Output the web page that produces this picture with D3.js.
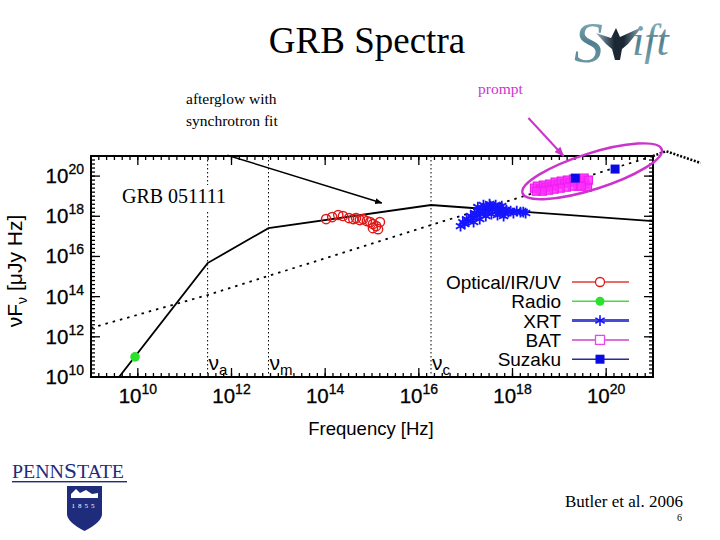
<!DOCTYPE html>
<html><head><meta charset="utf-8">
<script src="https://cdn.jsdelivr.net/npm/d3@7"></script>
<style>body{margin:0;background:#fff}svg{display:block}</style>
</head><body>
<svg id="c" width="720" height="540"></svg>
<script>
// ---------- DATA (log10 values) ----------
const xMajorExp = [10, 12, 14, 16, 18, 20];
const yMajorExp = [10, 12, 14, 16, 18, 20];

// Optical/IR/UV (log10 Hz, log10 uJy Hz)
const optLogNu = [14.02,14.15,14.28,14.38,14.51,14.60,14.66,14.74,14.81,14.89,14.96,15.02,15.09,15.17,15.13,15.02];
const optLogF  = [17.86,17.96,18.06,18.01,17.91,17.86,17.91,17.81,17.86,17.76,17.71,17.61,17.51,17.71,17.36,17.41];

// Radio
const radioLogNu = [9.94];
const radioLogF  = [11.0];

// XRT
const xrtLogNu = [16.89,16.94,16.98,17.02,17.06,17.11,17.15,17.19,17.23,17.28,17.32,17.36,17.40,17.45,17.49,17.53,17.57,17.62,17.66,17.70,17.74,17.79,17.83,17.87,17.91,17.96,18.02,18.09,18.17,18.23,18.28,17.26,17.38,17.51,17.64,17.77,17.43,17.55,17.68,17.81,17.17,17.30];
const xrtLogF  = [17.51,17.71,17.61,17.86,17.76,18.01,17.91,18.16,18.06,18.26,18.11,18.36,18.21,18.46,18.31,18.51,18.36,18.46,18.26,18.41,18.21,18.36,18.16,18.31,18.21,18.26,18.16,18.26,18.21,18.21,18.16,18.46,18.56,18.61,18.56,18.51,18.01,18.11,18.06,18.01,17.71,17.86];

// BAT
const batLogNu = [18.47,18.53,18.60,18.66,18.72,18.79,18.85,18.91,18.98,19.04,19.11,19.17,19.23,19.30,19.36,19.43,19.49,19.55,19.60,19.53,19.40,19.28,19.15,19.02,18.89,18.77,18.64,18.51,19.62,19.47];
const batLogF  = [19.40,19.50,19.35,19.55,19.45,19.60,19.50,19.70,19.60,19.75,19.65,19.80,19.70,19.85,19.75,19.80,19.70,19.60,19.45,19.90,19.50,19.50,19.45,19.40,19.35,19.30,19.25,19.25,19.80,19.50];

// Suzaku
const suzLogNu = [19.34, 20.19];
const suzLogF  = [19.90, 20.35];
const suzLogFLow = [19.84, 20.20];

// Synchrotron afterglow model (broken power law break points)
const modelLogNu = [9.0, 11.49, 12.79, 16.26, 21.0];
const modelLogF  = [8.2, 15.67, 17.41, 18.56, 17.76];

// Prompt (Band) model, dotted
const promptLogNu = [9.0, 11.49, 16.26, 21.0];
const promptLogF  = [12.44, 14.08, 17.56, 21.0];
const promptOutLogNu = [21.0, 21.28, 22.02];
const promptOutLogF  = [21.0, 21.24, 20.65];

// Break frequencies
const breakLogNu = [11.49, 12.79, 16.26];
const breakSubs  = ["a", "m", "c"];

// Legend
const legendLabels = ["Optical/IR/UV", "Radio", "XRT", "BAT", "Suzaku"];
const legendLineColors = ["#e23a3a", "#44dd44", "#4a4ad2", "#d873d8", "#2a2a9a"];
const legendLineWidths = [1.5, 1.5, 3, 2, 1.5];

// ---------- LAYOUT ----------
const svg = d3.select('#c');
const L = 91, R = 653, T = 156, B = 377;
const P = v => Math.pow(10, v);
const x = d3.scaleLog().domain([1e9, 1e21]).range([L, R]);
const y = d3.scaleLog().domain([1e10, 1e21]).range([B, T]);
const SANS = "'Liberation Sans', Arial, Helvetica, sans-serif";
const SERIF = "'Liberation Serif', 'Times New Roman', serif";

svg.append('rect').attr('width', 720).attr('height', 540).attr('fill', '#fff');
const defs = svg.append('defs');
defs.append('clipPath').attr('id', 'clip').append('rect')
  .attr('x', L).attr('y', T).attr('width', R - L).attr('height', B - T);
const mk = (id, col) => defs.append('marker').attr('id', id).attr('viewBox', '0 0 10 10')
  .attr('refX', 9).attr('refY', 5).attr('markerWidth', 5).attr('markerHeight', 5)
  .attr('orient', 'auto').append('path').attr('d', 'M0,1 L10,5 L0,9 Z').attr('fill', col);
mk('arrK', '#000'); mk('arrM', '#cc33cc');

// ---------- Title, texts ----------
svg.append('text').attr('x', 367).attr('y', 53).attr('text-anchor', 'middle')
  .attr('font-family', SERIF).attr('font-size', 37).text('GRB Spectra');
svg.append('text').attr('x', 186).attr('y', 104).attr('font-family', SERIF).attr('font-size', 15.5).text('afterglow with');
svg.append('text').attr('x', 186).attr('y', 126).attr('font-family', SERIF).attr('font-size', 15.5).text('synchrotron fit');
svg.append('text').attr('x', 478).attr('y', 94).attr('font-family', SERIF).attr('font-size', 15.5)
  .attr('fill', '#cc33cc').text('prompt');

// ---------- Axes ticks ----------
const ax = svg.append('g').attr('stroke', '#000').attr('stroke-width', 1.3);
const xMinor = d3.range(9, 21.0001, 1 / 6).map(P);
const yMinor = d3.range(10, 21.0001, 0.2).map(P);
xMinor.forEach(v => {
  const xx = x(v);
  ax.append('line').attr('x1', xx).attr('x2', xx).attr('y1', B).attr('y2', B - 4);
  ax.append('line').attr('x1', xx).attr('x2', xx).attr('y1', T).attr('y2', T + 4);
});
xMajorExp.forEach(e => {
  const xx = x(P(e));
  ax.append('line').attr('x1', xx).attr('x2', xx).attr('y1', B).attr('y2', B - 9);
  ax.append('line').attr('x1', xx).attr('x2', xx).attr('y1', T).attr('y2', T + 9);
});
yMinor.forEach(v => {
  const yy = y(v);
  ax.append('line').attr('x1', L).attr('x2', L + 4).attr('y1', yy).attr('y2', yy);
  ax.append('line').attr('x1', R).attr('x2', R - 4).attr('y1', yy).attr('y2', yy);
});
yMajorExp.forEach(e => {
  const yy = y(P(e));
  ax.append('line').attr('x1', L).attr('x2', L + 9).attr('y1', yy).attr('y2', yy);
  ax.append('line').attr('x1', R).attr('x2', R - 9).attr('y1', yy).attr('y2', yy);
});

// tick labels
xMajorExp.forEach(e => {
  const t = svg.append('text').attr('x', x(P(e))).attr('y', 403).attr('text-anchor', 'middle')
    .attr('font-family', SANS).attr('font-size', 20.5).attr('stroke', '#000').attr('stroke-width', 0.3);
  t.append('tspan').text('10');
  t.append('tspan').attr('dy', -9).attr('font-size', 14).text(String(e));
});
yMajorExp.forEach(e => {
  const t = svg.append('text').attr('x', 84).attr('y', y(P(e)) + 7).attr('text-anchor', 'end')
    .attr('font-family', SANS).attr('font-size', 20.5).attr('stroke', '#000').attr('stroke-width', 0.3);
  t.append('tspan').text('10');
  t.append('tspan').attr('dy', -9).attr('font-size', 14).text(String(e));
});

// axis titles
svg.append('text').attr('x', 371).attr('y', 435).attr('text-anchor', 'middle')
  .attr('font-family', SANS).attr('font-size', 18.5).text('Frequency [Hz]');
const yt = svg.append('text').attr('transform', 'translate(22,271) rotate(-90)').attr('text-anchor', 'middle')
  .attr('font-family', SANS).attr('font-size', 21);
yt.append('tspan').text('νF');
yt.append('tspan').attr('font-size', 14).attr('dy', 5).text('ν');
yt.append('tspan').attr('dy', -5).text(' [μJy Hz]');

// ---------- plot content ----------
const plot = svg.append('g').attr('clip-path', 'url(#clip)');

// break frequency dotted verticals
breakLogNu.forEach(b => {
  plot.append('line').attr('x1', x(P(b))).attr('x2', x(P(b))).attr('y1', T).attr('y2', B)
    .attr('stroke', '#000').attr('stroke-width', 1).attr('stroke-dasharray', '1.5,2.5');
});
breakLogNu.forEach((b, i) => {
  const t = svg.append('text').attr('x', x(P(b)) + 1).attr('y', 370)
    .attr('font-family', SANS).attr('font-size', 21);
  t.append('tspan').text('ν');
  t.append('tspan').attr('dy', 5).attr('font-size', 15).text(breakSubs[i]);
});

const line = d3.line().x(d => x(P(d[0]))).y(d => y(P(d[1])));
plot.append('path').attr('d', line(modelLogNu.map((v, i) => [v, modelLogF[i]])))
  .attr('fill', 'none').attr('stroke', '#000').attr('stroke-width', 1.8);
plot.append('path').attr('d', line(promptLogNu.map((v, i) => [v, promptLogF[i]])))
  .attr('fill', 'none').attr('stroke', '#000').attr('stroke-width', 1.8).attr('stroke-dasharray', '2.5,5');
svg.append('path').attr('d', line(promptOutLogNu.map((v, i) => [v, promptOutLogF[i]])))
  .attr('fill', 'none').attr('stroke', '#000').attr('stroke-width', 2.5).attr('stroke-dasharray', '2,1.6');

// optical
plot.selectAll('.opt').data(optLogNu.map((v, i) => [v, optLogF[i]])).enter().append('circle')
  .attr('cx', d => x(P(d[0]))).attr('cy', d => y(P(d[1]))).attr('r', 4.6)
  .attr('fill', 'none').attr('stroke', '#e01818').attr('stroke-width', 1.4);
// radio
plot.selectAll('.rad').data(radioLogNu.map((v, i) => [v, radioLogF[i]])).enter().append('circle')
  .attr('cx', d => x(P(d[0]))).attr('cy', d => y(P(d[1]))).attr('r', 4.8).attr('fill', '#2ee02e');
// XRT
const ast = d3.symbol().type(d3.symbolAsterisk).size(80);
plot.selectAll('.xrt').data(xrtLogNu.map((v, i) => [v, xrtLogF[i]])).enter().append('path')
  .attr('d', ast).attr('transform', d => `translate(${x(P(d[0]))},${y(P(d[1]))})`)
  .attr('fill', 'none').attr('stroke', '#1515ff').attr('stroke-width', 1.8);
// BAT
plot.selectAll('.bat').data(batLogNu.map((v, i) => [v, batLogF[i]])).enter().append('rect')
  .attr('x', d => x(P(d[0])) - 4).attr('y', d => y(P(d[1])) - 4).attr('width', 8).attr('height', 8)
  .attr('fill', '#ff30ff').attr('fill-opacity', 0.8).attr('stroke', '#f020f0').attr('stroke-width', 1.3);
// Suzaku
suzLogNu.forEach((v, i) => {
  plot.append('line').attr('x1', x(P(v))).attr('x2', x(P(v))).attr('y1', y(P(suzLogF[i])))
    .attr('y2', y(P(suzLogFLow[i]))).attr('stroke', '#0000dd').attr('stroke-width', 1.5);
});
plot.selectAll('.suz').data(suzLogNu.map((v, i) => [v, suzLogF[i]])).enter().append('rect')
  .attr('x', d => x(P(d[0])) - 4.5).attr('y', d => y(P(d[1])) - 4.5).attr('width', 9).attr('height', 9)
  .attr('fill', '#0a0ae6');

// legend
legendLabels.forEach((lab, i) => {
  const cy = 282 + i * 19.3;
  svg.append('text').attr('x', 561).attr('y', cy + 7).attr('text-anchor', 'end')
    .attr('font-family', SANS).attr('font-size', 19).text(lab);
  svg.append('line').attr('x1', 572).attr('x2', 629).attr('y1', cy).attr('y2', cy)
    .attr('stroke', legendLineColors[i]).attr('stroke-width', legendLineWidths[i]);
  const mx = 600;
  if (i === 0) svg.append('circle').attr('cx', mx).attr('cy', cy).attr('r', 4.5).attr('fill', '#fff').attr('stroke', '#e01818').attr('stroke-width', 1.3);
  if (i === 1) svg.append('circle').attr('cx', mx).attr('cy', cy).attr('r', 4.5).attr('fill', '#2ee02e');
  if (i === 2) svg.append('path').attr('d', ast).attr('transform', `translate(${mx},${cy})`).attr('fill', 'none').attr('stroke', '#1515ff').attr('stroke-width', 1.6);
  if (i === 3) svg.append('rect').attr('x', mx - 4.5).attr('y', cy - 4.5).attr('width', 9).attr('height', 9).attr('fill', '#fff').attr('stroke', '#ee44ee').attr('stroke-width', 1.3);
  if (i === 4) svg.append('rect').attr('x', mx - 4.5).attr('y', cy - 4.5).attr('width', 9).attr('height', 9).attr('fill', '#0a0ae6');
});

// frame
svg.append('rect').attr('x', L).attr('y', T).attr('width', R - L).attr('height', B - T)
  .attr('fill', 'none').attr('stroke', '#000').attr('stroke-width', 2);

// GRB label with white box
svg.append('rect').attr('x', 119).attr('y', 185).attr('width', 112).attr('height', 25).attr('fill', '#fff');
svg.append('text').attr('x', 122).attr('y', 203).attr('font-family', SERIF).attr('font-size', 20).text('GRB 051111');

// annotations (in data coordinates)
svg.append('line').attr('x1', x(P(11.91))).attr('y1', y(P(21.04))).attr('x2', x(P(15.21))).attr('y2', y(P(18.66)))
  .attr('stroke', '#000').attr('stroke-width', 1.5).attr('marker-end', 'url(#arrK)');
svg.append('line').attr('x1', x(P(18.34))).attr('y1', y(P(22.89))).attr('x2', x(P(19.09))).attr('y2', y(P(21.0)))
  .attr('stroke', '#cc33cc').attr('stroke-width', 2).attr('marker-end', 'url(#arrM)');
svg.append('ellipse').attr('cx', x(P(19.70))).attr('cy', y(P(20.24))).attr('rx', 73).attr('ry', 18)
  .attr('transform', `rotate(-17.5 ${x(P(19.70))} ${y(P(20.24))})`)
  .attr('fill', 'none').attr('stroke', '#cc33cc').attr('stroke-width', 2.5);

// ---------- Swift logo ----------
const grad = defs.append('linearGradient').attr('id', 'teal').attr('x1', 0).attr('y1', 0).attr('x2', 0).attr('y2', 1);
grad.append('stop').attr('offset', '0').attr('stop-color', '#9cc3cc');
grad.append('stop').attr('offset', '0.5').attr('stop-color', '#4f7f8e');
grad.append('stop').attr('offset', '1').attr('stop-color', '#7aa6b2');
svg.append('text').attr('x', 574).attr('y', 62).attr('font-family', SERIF).attr('font-style', 'italic')
  .attr('font-size', 58).attr('fill', 'url(#teal)').text('S');
svg.append('text').attr('x', 632).attr('y', 55).attr('font-family', SERIF).attr('font-style', 'italic')
  .attr('font-size', 44).attr('fill', 'url(#teal)').text('ift');
const bg = defs.append('linearGradient').attr('id', 'bird').attr('x1', 0).attr('y1', 0).attr('x2', 1).attr('y2', 0);
bg.append('stop').attr('offset', '0').attr('stop-color', '#8fb4c4');
bg.append('stop').attr('offset', '0.4').attr('stop-color', '#1b2733');
bg.append('stop').attr('offset', '0.6').attr('stop-color', '#1b2733');
bg.append('stop').attr('offset', '1').attr('stop-color', '#8fb4c4');
svg.append('path').attr('d', 'M596,33 L611,38 L616,28 L620,37 L642,27 L628,44 L622,49 L620,60 L615,60 L612,49 L606,44 Z')
  .attr('fill', 'url(#bird)');

// ---------- Penn State logo ----------
const NAVY = '#1f2b7b';
const ps = svg.append('text').attr('x', 12).attr('y', 478).attr('font-family', SERIF).attr('fill', NAVY)
  .attr('font-size', 18).attr('textLength', 112).attr('lengthAdjust', 'spacingAndGlyphs');
ps.append('tspan').text('PENN');
ps.append('tspan').attr('font-size', 21).text('S');
ps.append('tspan').text('TATE');
svg.append('rect').attr('x', 12).attr('y', 481).attr('width', 115).attr('height', 1.4).attr('fill', NAVY);
svg.append('path').attr('d', 'M67,486 H102 V514 Q102,522 84.5,531 Q67,522 67,514 Z').attr('fill', NAVY);
svg.append('path').attr('d', 'M71,494 L76,489 L80,493 L86,490 L92,494 L98,493 L98,498 L71,498 Z').attr('fill', '#fff');
svg.append('text').attr('x', 84.5).attr('y', 508).attr('text-anchor', 'middle').attr('font-family', SERIF)
  .attr('font-size', 7).attr('fill', '#fff').attr('letter-spacing', 3).text('1855');

// ---------- citation ----------
svg.append('text').attr('x', 565).attr('y', 507).attr('font-family', SERIF).attr('font-size', 17).text('Butler et al. 2006');
svg.append('text').attr('x', 677).attr('y', 521).attr('font-family', SERIF).attr('font-size', 10).text('6');
</script>
</body></html>
